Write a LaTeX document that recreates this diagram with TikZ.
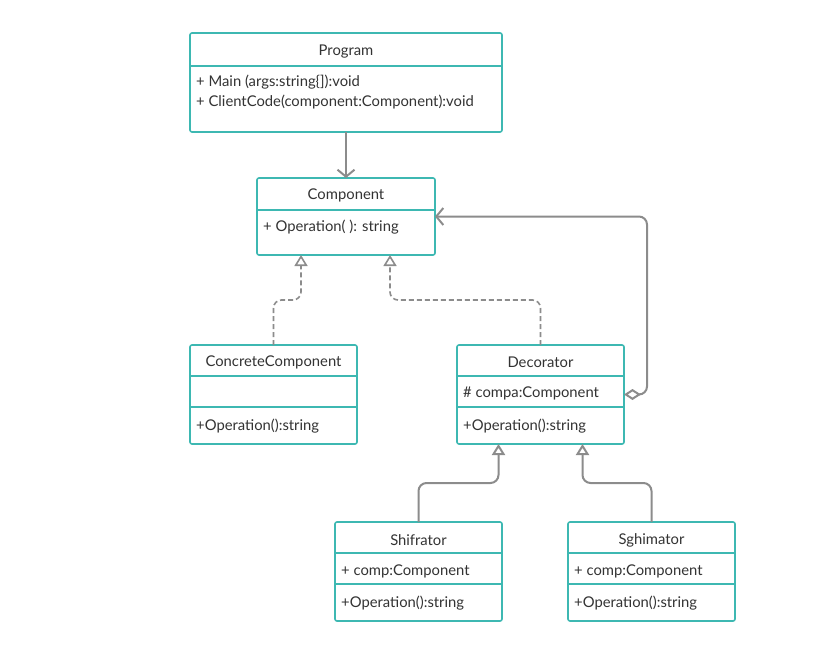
\documentclass[tikz,border=0pt]{standalone}
\usepackage{fontspec}
\setmainfont{Lato}
\usepackage{tikz}
\usetikzlibrary {arrows.meta,
                 calc}
\definecolor{umlteal}{HTML}{3DB8B2}
\definecolor{linegray}{HTML}{8C8C8C}
\definecolor{txtgray}{HTML}{333333}
\tikzset{
        cls/.style={draw=umlteal, line width=1.6bp, rounded corners=2bp,
                    fill=white, outer sep=0pt, inner sep=0pt},
        sep/.style={draw=umlteal, line width=1.4bp},
        title/.style={font=\fontsize{14.8bp}{17bp}\selectfont, text=txtgray,
                      inner sep=0pt},
        item/.style={title, anchor=west},
        link/.style={draw=linegray, line width=2bp, rounded corners=8bp},
        real/.style={link, line width=1.6bp, dash pattern=on 5bp off 3bp,
                     -{Triangle[open, length=11bp, width=13bp, fill=white]}},
        inh/.style={link, -{Triangle[open, length=11bp, width=13bp, fill=white]}},
        uses/.style={link, -{Straight Barb[length=7bp, width=17bp]}},
        agg/.style={link, {Diamond[open, length=17bp, width=11bp, fill=white]}-{Straight Barb[length=7bp, width=17bp]}},
 }
\begin{document}
\begin{tikzpicture}[x=1bp, y=-1bp]
    \useasboundingbox (0,0) rectangle (821,660);

    % class boxes
    \node[cls, minimum width=312bp, minimum height=99bp] (prog) at (346,82.5) {};
    \node[cls, minimum width=178bp, minimum height=77bp] (comp) at (346,216.5) {};
    \node[cls, minimum width=167bp, minimum height=99bp] (cc) at (273.5,394.5) {};
    \node[cls, minimum width=167bp, minimum height=99bp] (dec) at (540.5,394.5) {};
    \node[cls, minimum width=167bp, minimum height=99bp] (shif) at (418.5,571.5) {};
    \node[cls, minimum width=167bp, minimum height=99bp] (sghi) at (651.5,571.5) {};

    % compartments
    \draw[sep] ([yshift=-33bp]prog.north west) -- ([yshift=-33bp]prog.north east);
    \draw[sep] ([yshift=-32bp]comp.north west) -- ([yshift=-32bp]comp.north east);
    \draw[sep] ([yshift=-31bp]cc.north west) -- ([yshift=-31bp]cc.north east);
    \draw[sep] ([yshift=-62bp]cc.north west) -- ([yshift=-62bp]cc.north east);
    \draw[sep] ([yshift=-31bp]dec.north west) -- ([yshift=-31bp]dec.north east);
    \draw[sep] ([yshift=-62bp]dec.north west) -- ([yshift=-62bp]dec.north east);
    \draw[sep] ([yshift=-31bp]shif.north west) -- ([yshift=-31bp]shif.north east);
    \draw[sep] ([yshift=-62bp]shif.north west) -- ([yshift=-62bp]shif.north east);
    \draw[sep] ([yshift=-31bp]sghi.north west) -- ([yshift=-31bp]sghi.north east);
    \draw[sep] ([yshift=-62bp]sghi.north west) -- ([yshift=-62bp]sghi.north east);

    % texts
    \node[title] (progt) at ([yshift=-18.5bp]prog.north) {Program};
    \node[item] (progm1) at ([xshift=6bp, yshift=-49.5bp]prog.north west) {+ Main (args:string\{]):void};
    \node[item] (progm2) at ([xshift=6bp, yshift=-69.5bp]prog.north west) {+ ClientCode(component:Component):void};

    \node[title] (compt) at ([yshift=-17.5bp]comp.north) {Component};
    \node[item] (compm) at ([xshift=6bp, yshift=-49.5bp]comp.north west) {+ Operation( ): string};

    \node[title] (cct) at ([yshift=-17.5bp]cc.north) {ConcreteComponent};
    \node[item] (ccm) at ([xshift=6bp, yshift=-81.5bp]cc.north west) {+Operation():string};

    \node[title] (dect) at ([yshift=-17.5bp]dec.north) {Decorator};
    \node[item] (deca) at ([xshift=6bp, yshift=-48.5bp]dec.north west) {\# compa:Component};
    \node[item] (decm) at ([xshift=6bp, yshift=-81.5bp]dec.north west) {+Operation():string};

    \node[title] (shift) at ([yshift=-18.5bp]shif.north) {Shifrator};
    \node[item] (shifa) at ([xshift=6bp, yshift=-49.5bp]shif.north west) {+ comp:Component};
    \node[item] (shifm) at ([xshift=6bp, yshift=-81.5bp]shif.north west) {+Operation():string};

    \node[title] (sghit) at ([yshift=-18.5bp]sghi.north) {Sghimator};
    \node[item] (sghia) at ([xshift=6bp, yshift=-49.5bp]sghi.north west) {+ comp:Component};
    \node[item] (sghim) at ([xshift=6bp, yshift=-81.5bp]sghi.north west) {+Operation():string};

    % connectors
    \draw[uses] (prog.south) -- (comp.north);
    \draw[real] (cc.north) -- ++(0,-45) -| ([xshift=-45bp]comp.south);
    \draw[real] (dec.north) -- ++(0,-45) -| ([xshift=44bp]comp.south);
    \draw[agg] (dec.east) -- ++(23,0) |- (comp.east);
    \draw[inh] (shif.north) -- ++(0,-39) -| ([xshift=-42bp]dec.south);
    \draw[inh] (sghi.north) -- ++(0,-39) -| ([xshift=42bp]dec.south);

\end{tikzpicture}
\end{document}
